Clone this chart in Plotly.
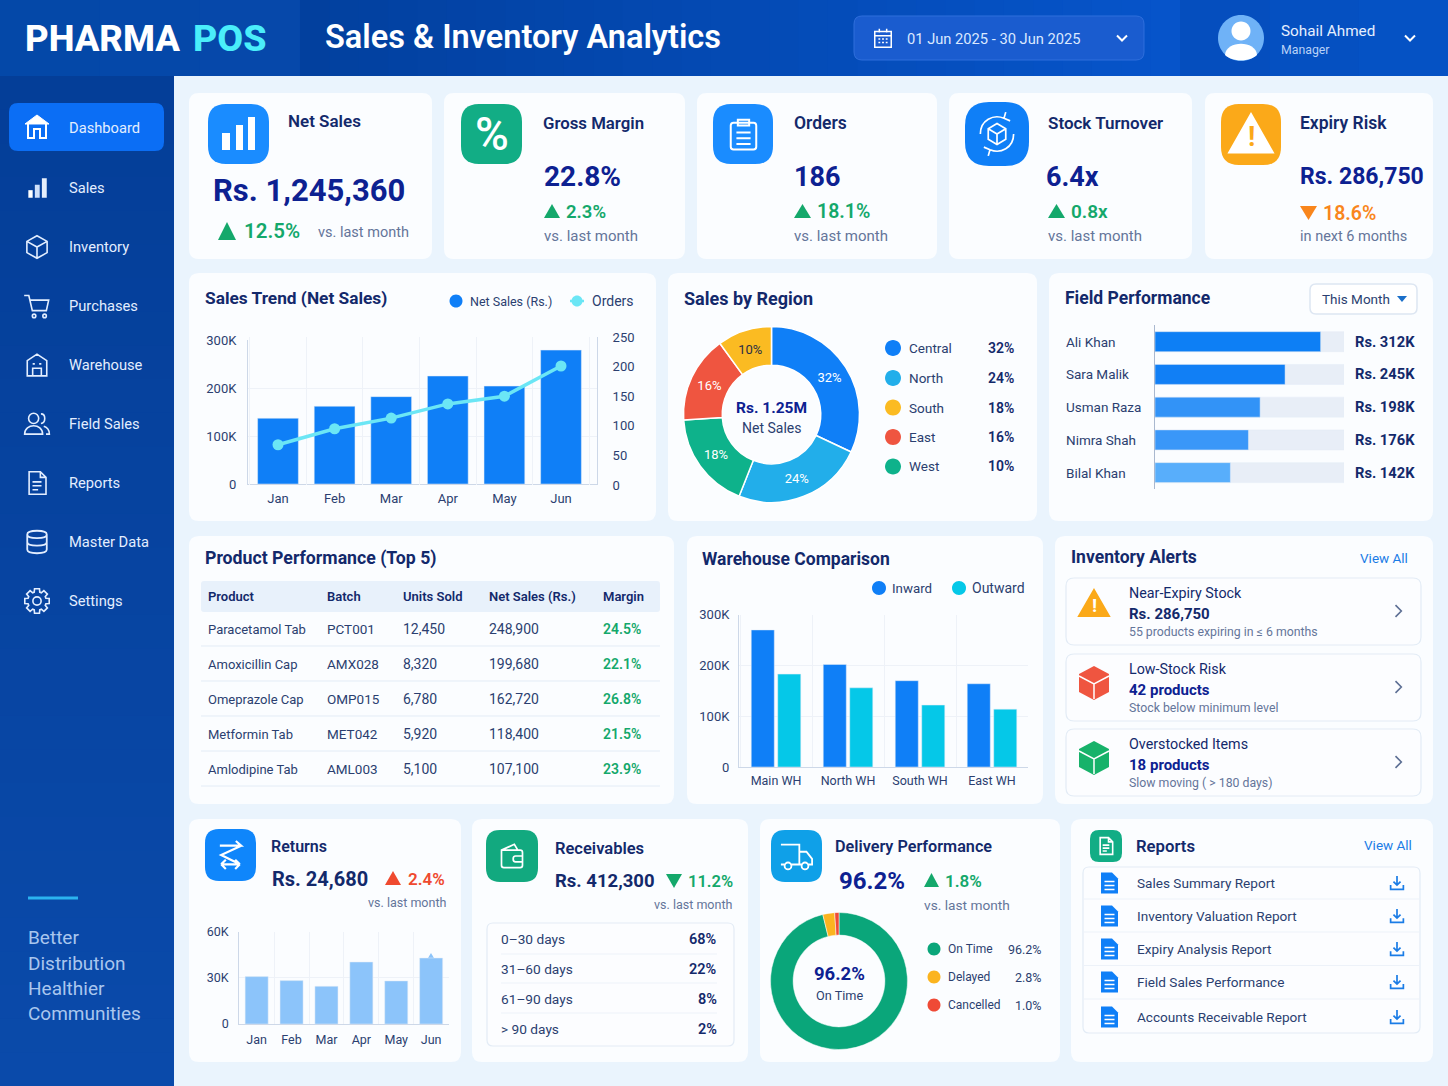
import math
import re
import plotly.graph_objects as go

W, H = 1448, 1086
FONT = "Roboto"

# ---- colours
NAVY = "#0d2191"
INK = "#13296b"
BODY = "#2b3f70"
GREY = "#64759a"
BLUE = "#0f7ff7"
CYAN = "#6be6f5"
GREEN = "#14a86b"
TEAL = "#12ad85"
RED = "#ef4a2f"
ORANGE = "#fba919"
BORDER = "#e3ecf6"

# ---- data
MONTHS = ["Jan", "Feb", "Mar", "Apr", "May", "Jun"]
NET_SALES_K = [137, 162, 182, 225, 204, 279]
ORDERS = [68, 95, 113, 137, 150, 201]
RETURNS_K = [30.8, 28.2, 24.5, 40.3, 28, 42.9]

REGION_SLICES = [32, 24, 18, 16, 10]
REGION_SLICE_COLORS = ["#0f7ff7", "#22aeea", "#0eb28b", "#ef5540", "#fbbb22"]
REGION_SLICE_TEXT_COLORS = ["white", "white", "white", "white", "#2b2f45"]
REGION_NAMES = ["Central", "North", "South", "East", "West"]
REGION_PCTS = ["32%", "24%", "18%", "16%", "10%"]
REGION_COLORS = ["#0f7ff7", "#22aeea", "#fbbb22", "#ef5540", "#0eb28b"]

FIELD_NAMES = ["Ali Khan", "Sara Malik", "Usman Raza", "Nimra Shah", "Bilal Khan"]
FIELD_SALES_K = [312, 245, 198, 176, 142]
FIELD_COLORS = ["#0d7ff5", "#117ff5", "#3293f7", "#3a97f8", "#58aefb"]
FIELD_TRACK_K = 356

PRODUCT_HEAD = ["Product", "Batch", "Units Sold", "Net Sales (Rs.)", "Margin"]
PRODUCTS = ["Paracetamol Tab", "Amoxicillin Cap", "Omeprazole Cap", "Metformin Tab", "Amlodipine Tab"]
BATCHES = ["PCT001", "AMX028", "OMP015", "MET042", "AML003"]
UNITS = ["12,450", "8,320", "6,780", "5,920", "5,100"]
PRODUCT_SALES = ["248,900", "199,680", "162,720", "118,400", "107,100"]
MARGINS = ["24.5%", "22.1%", "26.8%", "21.5%", "23.9%"]

WAREHOUSES = ["Main WH", "North WH", "South WH", "East WH"]
INWARD_K = [270, 202, 170, 164]
OUTWARD_K = [183, 156, 122, 114]

AGING_LABELS = ["0–30 days", "31–60 days", "61–90 days", "> 90 days"]
AGING_PCTS = ["68%", "22%", "8%", "2%"]

DELIVERY_NAMES = ["On Time", "Delayed", "Cancelled"]
DELIVERY_VALUES = [96.2, 2.8, 1.0]
DELIVERY_COLORS = ["#0aa67a", "#fbb41f", "#ef4a36"]

REPORTS = ["Sales Summary Report", "Inventory Valuation Report", "Expiry Analysis Report",
           "Field Sales Performance", "Accounts Receivable Report"]
NAV_ITEMS = ["Dashboard", "Sales", "Inventory", "Purchases", "Warehouse",
             "Field Sales", "Reports", "Master Data", "Settings"]

shapes = []
notes = []


def to_paper(path, ox=0, oy=0, s=1):
    out = []
    is_x = True
    for t in re.findall(r"[MLQCZ]|-?\d+\.?\d*", path):
        if t in "MLQCZ":
            out.append(t)
            is_x = True
        elif is_x:
            out.append(f"{(ox + float(t) * s) / W:.5f},")
            is_x = False
        else:
            out.append(f"{1 - (oy + float(t) * s) / H:.5f}")
            is_x = True
    return " ".join(out)


def add_path(path, fill=None, line=None, lw=1.5, ox=0, oy=0, s=1):
    shapes.append(dict(
        type="path", xref="paper", yref="paper", layer="below",
        path=to_paper(path, ox, oy, s),
        fillcolor=fill if fill else "rgba(0,0,0,0)",
        line=dict(color=line if line else "rgba(0,0,0,0)", width=lw if line else 0),
    ))


def rr(x0, y0, x1, y1, r):
    return (f"M{x0 + r} {y0} L{x1 - r} {y0} Q{x1} {y0} {x1} {y0 + r} L{x1} {y1 - r} "
            f"Q{x1} {y1} {x1 - r} {y1} L{x0 + r} {y1} Q{x0} {y1} {x0} {y1 - r} "
            f"L{x0} {y0 + r} Q{x0} {y0} {x0 + r} {y0} Z")


def circ(cx, cy, r):
    k = 0.5523 * r
    return (f"M{cx - r} {cy} C{cx - r} {cy - k} {cx - k} {cy - r} {cx} {cy - r} "
            f"C{cx + k} {cy - r} {cx + r} {cy - k} {cx + r} {cy} "
            f"C{cx + r} {cy + k} {cx + k} {cy + r} {cx} {cy + r} "
            f"C{cx - k} {cy + r} {cx - r} {cy + k} {cx - r} {cy} Z")


def box(x0, y0, x1, y1, r=10, fill="#fbfdff", line=None, lw=1):
    add_path(rr(x0, y0, x1, y1, r), fill=fill, line=line, lw=lw)


def dot(cx, cy, r, color):
    add_path(circ(cx, cy, r), fill=color)


def hline(x0, x1, y, color=BORDER, lw=1):
    add_path(f"M{x0} {y} L{x1} {y}", line=color, lw=lw)


def tri(x0, y0, x1, y1, color, up=True):
    mid = (x0 + x1) / 2
    if up:
        add_path(f"M{mid} {y0} L{x1} {y1} L{x0} {y1} Z", fill=color)
    else:
        add_path(f"M{x0} {y0} L{x1} {y0} L{mid} {y1} Z", fill=color)


def txt(x, y, s, size=15, color=BODY, weight=400, anchor="left"):
    notes.append(dict(
        xref="paper", yref="paper", x=x / W, y=1 - y / H, text=s, showarrow=False,
        xanchor=anchor, yanchor="middle", align=anchor, borderpad=0, borderwidth=0,
        font=dict(family=FONT, size=size, color=color, weight=weight),
    ))


def icon(path, cx, cy, size, fill=None, line=None, lw=1.6):
    s = size / 24
    add_path(path, fill=fill, line=line, lw=lw, ox=cx - size / 2, oy=cy - size / 2, s=s)


# ---- icon outlines on a 24 unit box
I_CUBE = "M12 2 L21 7 L21 17 L12 22 L3 17 L3 7 Z M3 7 L12 12 L21 7 M12 12 L12 22"
I_CART = "M1 3 L5 3 L8 16 L20 16 L22 7 L6 7 " + circ(9.5, 20.5, 1.5) + " " + circ(18.5, 20.5, 1.5)
I_HOUSE = "M3 22 L3 8 L12 2 L21 8 L21 22 Z M8 22 L8 15 L16 15 L16 22 Z M8 11 L10 11 M14 11 L16 11"
I_USERS = (circ(9, 7, 4.5) + " M1 21 C1 11 17 11 17 21 Z M15.5 3 C20 3 20 11 15.5 11.5 "
           "M18 14 C21 15 23 17 23 21 L20 21")
I_DOC = "M5 2 L15 2 L20 7 L20 22 L5 22 Z M15 2 L15 7 L20 7 M8 11 L16 11 M8 14.5 L16 14.5 M8 18 L13 18"
I_DB = ("M3 5 C3 0.5 21 0.5 21 5 C21 9.5 3 9.5 3 5 Z M3 5 L3 19 C3 23.5 21 23.5 21 19 L21 5 "
        "M3 12 C3 16.5 21 16.5 21 12")
I_CAL = ("M3 5 L21 5 L21 22 L3 22 Z M3 9.5 L21 9.5 M8 2 L8 6 M16 2 L16 6 M7 13 L9 13 M11 13 L13 13 "
         "M15 13 L17 13 M7 17 L9 17 M11 17 L13 17 M15 17 L17 17")
I_CLIP = ("M5 4 L19 4 Q21 4 21 6 L21 21 Q21 23 19 23 L5 23 Q3 23 3 21 L3 6 Q3 4 5 4 Z "
          "M8 2 L16 2 L16 6 L8 6 Z M7 11 L17 11 M7 15 L17 15 M7 19 L17 19")
I_SWAP = "M4 5 L20 5 L16 1.5 M20 5 L5 12 L19 19 M5 19 L19 19 M5 19 L8.5 15.5 M5 19 L8.5 22.5 M19 19 L15.5 15.5 M19 19 L15.5 22.5"
I_WALLET = "M3 7 L19 7 Q21 7 21 9 L21 20 Q21 22 19 22 L5 22 Q3 22 3 20 L3 7 L14 2 L17 7 M21 12 L15 12 Q13 12 13 14.5 Q13 17 15 17 L21 17"
I_TRUCK = ("M1 4 L14 4 L14 18 L8 18 M3.5 18 L1 18 Z M14 9 L19 9 L23 14 L23 18 L20 18 M14 18 L16 18 "
           + circ(6, 19, 2.4) + " " + circ(18, 19, 2.4))
I_DOWN = "M12 2 L12 15 M7 10 L12 15 L17 10 M3 15 L3 21 L21 21 L21 15"
I_SYNC = ("M2.5 12 C2.5 4 10 0.5 16 3 M16 3 L17 -0.5 M16 3 L19.5 4.5 M21.5 12 C21.5 20 14 23.5 8 21 "
          "M8 21 L7 24.5 M8 21 L4.5 19.5 M12 6 L17 9 L17 15 L12 18 L7 15 L7 9 Z M7 9 L12 12 L17 9 M12 12 L12 18")


def gear_path():
    pts = []
    for i in range(8):
        a = i * math.pi / 4
        for da, rad in ((-0.30, 8.6), (-0.20, 11.5), (0.20, 11.5), (0.30, 8.6)):
            pts.append((12 + rad * math.cos(a + da), 12 + rad * math.sin(a + da)))
    p = "M" + " L".join(f"{x:.2f} {y:.2f}" for x, y in pts) + " Z "
    return p + circ(12, 12, 3.8)


def gradient_h(x0, x1, y0, y1, c0, c1, n=30):
    for i in range(n):
        t = i / (n - 1)
        c = [round(a + (b - a) * t) for a, b in zip(c0, c1)]
        xa = x0 + (x1 - x0) * i / n
        xb = x0 + (x1 - x0) * (i + 1) / n + 1
        add_path(f"M{xa:.1f} {y0} L{min(xb, x1):.1f} {y0} L{min(xb, x1):.1f} {y1} L{xa:.1f} {y1} Z",
                 fill=f"rgb({c[0]},{c[1]},{c[2]})")


def gradient_v(x0, x1, y0, y1, c0, c1, n=30):
    for i in range(n):
        t = i / (n - 1)
        c = [round(a + (b - a) * t) for a, b in zip(c0, c1)]
        ya = y0 + (y1 - y0) * i / n
        yb = y0 + (y1 - y0) * (i + 1) / n + 1
        add_path(f"M{x0} {ya:.1f} L{x1} {ya:.1f} L{x1} {min(yb, y1):.1f} L{x0} {min(yb, y1):.1f} Z",
                 fill=f"rgb({c[0]},{c[1]},{c[2]})")


# ---- page, header, sidebar
add_path(f"M0 0 L{W} 0 L{W} {H} L0 {H} Z", fill="#eaf4fd")
gradient_h(0, 300, 0, 76, (4, 72, 168), (6, 72, 170), 3)
gradient_h(300, 1180, 0, 76, (2, 64, 158), (6, 84, 202))
gradient_h(1180, W, 0, 76, (5, 78, 190), (5, 82, 196), 3)
gradient_v(0, 174, 76, H, (4, 62, 152), (10, 74, 170))

txt(25, 38, "PHARMA", 36.5, "white", 800)
txt(193, 38, "POS", 37.5, "#4aeefa", 800)
txt(325, 37, "Sales &amp; Inventory Analytics", 32.5, "white", 600)
box(854, 16, 1144, 60, r=8, fill="#1a5ccf", line="#2f6fdc")
icon(I_CAL, 883, 38, 22, line="white", lw=1.5)
txt(907, 39, "01 Jun 2025 - 30 Jun 2025", 14.7, "#dbe9ff")
icon("M6 9 L12 15 L18 9", 1122, 38, 20, line="white", lw=2)
dot(1241, 38, 23, "#6fb2f7")
dot(1241, 31, 9.5, "white")
add_path("M1225 55 C1226 40 1256 40 1257 55 C1250 62 1232 62 1225 55 Z", fill="white")
txt(1281, 31, "Sohail Ahmed", 15.3, "#e5efff")
txt(1281, 50, "Manager", 12.3, "#b9d2f7")
icon("M6 9 L12 15 L18 9", 1410, 38, 20, line="white", lw=2)

box(9, 103, 164, 151, r=9, fill="#0b6ef5")
NAV_Y = [128, 188, 247, 306, 365, 424, 483, 542, 601]
for name, y in zip(NAV_ITEMS, NAV_Y):
    txt(69, y, name, 14.7, "#e3eeff")
add_path("M25 124 L37 115 L49 124 Z", fill="white", line="white", lw=1)
add_path("M28 124 L28 138 L34 138 L34 129 L40 129 L40 138 L46 138 L46 124", line="white", lw=2)
icon("M4 14 L8 14 L8 21 L4 21 Z", 37, 188, 26, fill="white")
icon("M10 9 L14.5 9 L14.5 21 L10 21 Z", 37, 188, 26, fill="#cfe0fa")
icon("M16.5 3 L21 3 L21 21 L16.5 21 Z", 37, 188, 26, fill="#e6effc")
icon(I_CUBE, 37, 247, 27, line="#e3eeff")
icon(I_CART, 37, 306, 28, line="#e3eeff")
icon(I_HOUSE, 37, 365, 26, line="#e3eeff")
icon(I_USERS, 37, 424, 27, line="#e3eeff")
icon(I_DOC, 37, 483, 27, line="#e3eeff")
icon(I_DB, 37, 542, 26, line="#e3eeff", lw=1.8)
icon(gear_path(), 37, 601, 26, line="#e3eeff")

add_path("M28 898 L78 898", line="#2bb3f0", lw=3)
for y, s in zip([937, 963, 988, 1013], ["Better", "Distribution", "Healthier", "Communities"]):
    txt(28, y, s, 19, "#a9c6ee")

# ---- cards
for x0, x1 in [(189, 432), (444, 685), (697, 937), (949, 1192), (1205, 1433)]:
    box(x0, 93, x1, 259)
for x0, x1 in [(189, 656), (668, 1037), (1049, 1433)]:
    box(x0, 273, x1, 521)
for x0, x1 in [(189, 674), (687, 1043), (1055, 1433)]:
    box(x0, 536, x1, 804)
for x0, x1 in [(189, 461), (472, 748), (760, 1060), (1071, 1433)]:
    box(x0, 819, x1, 1062)

# ---- KPI row
box(208, 104, 269, 164, r=18, fill="#1a8cff")
add_path("M222 150 L230 150 L230 133 L222 133 Z M236 150 L243 150 L243 125 L236 125 Z "
         "M248 150 L255 150 L255 117 L248 117 Z", fill="white")
txt(288, 121, "Net Sales", 17, INK, 600)
txt(213, 190, "Rs. 1,245,360", 31, NAVY, 700)
tri(218, 222, 236, 240, GREEN)
txt(244, 231, "12.5%", 20.5, GREEN, 600)
txt(318, 233, "vs. last month", 14.5, GREY)

box(461, 104, 522, 164, r=18, fill=TEAL)
txt(491.5, 134, "%", 46, "white", 500, "center")
txt(543, 123, "Gross Margin", 16.8, INK, 600)
txt(544, 177, "22.8%", 28, NAVY, 700)
tri(544, 204, 560, 218, GREEN)
txt(566, 212, "2.3%", 18.5, GREEN, 600)
txt(544, 236, "vs. last month", 15, GREY)

box(713, 104, 773, 164, r=18, fill="#1a8cff")
icon(I_CLIP, 743.5, 134, 34, line="white", lw=2)
txt(794, 123, "Orders", 17.5, INK, 600)
txt(794, 177, "186", 27, NAVY, 700)
tri(794, 204, 811, 218, GREEN)
txt(817, 212, "18.1%", 19.5, GREEN, 600)
txt(794, 236, "vs. last month", 15, GREY)

box(965, 102, 1029, 166, r=24, fill="#0f7ff7")
icon(I_SYNC, 997, 134, 42, line="white", lw=1.7)
txt(1048, 123, "Stock Turnover", 17, INK, 600)
txt(1046, 177, "6.4x", 27, NAVY, 700)
tri(1048, 204, 1065, 218, GREEN)
txt(1071, 212, "0.8x", 19, GREEN, 600)
txt(1048, 236, "vs. last month", 15, GREY)

box(1221, 104, 1281, 165, r=18, fill=ORANGE)
add_path("M1251 115 L1272 152 L1230 152 Z", fill="white", line="white", lw=3)
txt(1251, 137, "!", 27, ORANGE, 700, "center")
txt(1300, 123, "Expiry Risk", 17.5, INK, 600)
txt(1300, 177, "Rs. 286,750", 23, NAVY, 700)
tri(1300, 206, 1317, 220, "#f9861c", up=False)
txt(1323, 213, "18.6%", 19.5, "#f9861c", 600)
txt(1300, 237, "in next 6 months", 14.5, GREY)

# ---- Sales trend
txt(205, 298, "Sales Trend (Net Sales)", 17.3, INK, 700)
dot(456, 301, 6.5, BLUE)
txt(470, 301, "Net Sales (Rs.)", 12.5, BODY)
add_path("M570 301 L584 301", line=CYAN, lw=2.5)
dot(577, 301, 5.5, CYAN)
txt(592, 301, "Orders", 14, BODY)

# ---- Sales by region
txt(684, 298, "Sales by Region", 18, INK, 700)
txt(771.5, 408, "Rs. 1.25M", 15.5, NAVY, 700, "center")
txt(771.5, 428, "Net Sales", 14, BODY, 400, "center")
for y, name, pct, col in zip([348, 378, 407.5, 437, 466.5], REGION_NAMES, REGION_PCTS, REGION_COLORS):
    dot(893, y, 8, col)
    txt(909, y, name, 13.5, BODY)
    txt(1014, y, pct, 14, INK, 600, "right")

# ---- Field performance
txt(1065, 298, "Field Performance", 17.5, INK, 700)
box(1310, 284, 1417, 314, r=6, fill="white", line="#dde6f2", lw=1.5)
txt(1322, 299, "This Month", 13.5, BODY)
tri(1397, 296, 1407, 302, "#1a6fc9", up=False)
for y, name, val in zip([341.7, 374, 406.7, 439.7, 472.7], FIELD_NAMES, FIELD_SALES_K):
    txt(1066, y, name, 13.5, BODY)
    txt(1355, y, f"Rs. {val}K", 14.7, INK, 700)

# ---- Product table
txt(205, 558, "Product Performance (Top 5)", 17.7, INK, 700)
box(201, 581, 660, 612, r=3, fill="#e8f1fb")
COL_X = [208, 327, 403, 489, 603]
for x, s in zip(COL_X, PRODUCT_HEAD):
    txt(x, 596, s, 13, INK, 600)
ROW_Y = [629, 664, 699, 734, 769]
for i, y in enumerate(ROW_Y):
    txt(COL_X[0], y, PRODUCTS[i], 13, BODY)
    txt(COL_X[1], y, BATCHES[i], 13.5, BODY)
    txt(COL_X[2], y, UNITS[i], 14, BODY)
    txt(COL_X[3], y, PRODUCT_SALES[i], 14, BODY)
    txt(COL_X[4], y, MARGINS[i], 14, GREEN, 600)
    hline(201, 660, y + 17)

# ---- Warehouse
txt(702, 559, "Warehouse Comparison", 17.5, INK, 700)
dot(879, 588, 7, BLUE)
txt(892, 588, "Inward", 13.3, BODY)
dot(959, 588, 7, "#05c8e8")
txt(972, 588, "Outward", 14, BODY)

# ---- Inventory alerts
txt(1071, 557, "Inventory Alerts", 17.5, INK, 700)
txt(1408, 558, "View All", 13.5, "#1a7ce6", 400, "right")
ALERT_ROWS = [
    (578, 645, "Near-Expiry Stock", "Rs. 286,750", "55 products expiring in ≤ 6 months", INK),
    (654, 721, "Low-Stock Risk", "42 products", "Stock below minimum level", NAVY),
    (729, 796, "Overstocked Items", "18 products", "Slow moving ( &gt; 180 days)", NAVY),
]
for y0, y1, a, b, c, col in ALERT_ROWS:
    box(1066, y0, 1421, y1, r=8, fill="#fcfdff", line=BORDER, lw=1.2)
    txt(1129, y0 + 15, a, 14.3, INK)
    txt(1129, y0 + 36, b, 15, col, 700)
    txt(1129, y0 + 54, c, 12.3, GREY)
    icon("M9 5 L16 12 L9 19", 1398, y0 + 33, 20, line="#5d6f94", lw=1.6)
add_path("M1094 590 L1109 616 L1079 616 Z", fill=ORANGE, line=ORANGE, lw=2)
txt(1094, 605, "!", 19, "white", 700, "center")
for cy, col, edge in [(683, "#ef5540", "#d9402b"), (758, "#17b26a", "#0f9c5a")]:
    add_path(f"M1094 {cy - 17} L1109 {cy - 9} L1109 {cy + 9} L1094 {cy + 17} L1079 {cy + 9} L1079 {cy - 9} Z", fill=col)
    add_path(f"M1079 {cy - 7} L1094 {cy + 1} L1109 {cy - 7} M1094 {cy + 1} L1094 {cy + 16}", line="white", lw=1.5)

# ---- Returns
box(205, 829, 256, 881, r=14, fill="#0f86fb")
icon(I_SWAP, 230.5, 855, 32, line="white", lw=2.2)
txt(271, 846, "Returns", 16, INK, 600)
txt(272, 879, "Rs. 24,680", 20, INK, 700)
tri(385, 871, 401, 885, RED)
txt(408, 879, "2.4%", 17, RED, 600)
txt(446, 902, "vs. last month", 12.5, GREY, 400, "right")
tri(428, 953, 434, 958, "#8cc4fa")

# ---- Receivables
box(486, 830, 538, 882, r=14, fill="#12a97f")
icon(I_WALLET, 512, 856, 28, line="white", lw=1.7)
txt(555, 849, "Receivables", 16.5, INK, 600)
txt(555, 881, "Rs. 412,300", 18.5, INK, 700)
tri(666, 874, 682, 888, GREEN, up=False)
txt(688, 881, "11.2%", 16.5, GREEN, 600)
txt(732, 904, "vs. last month", 12.5, GREY, 400, "right")
box(487, 923, 734, 1046, r=6, fill="#fcfdff", line=BORDER, lw=1.2)
for y, a, b in zip([939, 969, 999, 1029], AGING_LABELS, AGING_PCTS):
    txt(501, y, a, 13.7, BODY)
    txt(717, y, b, 14.5, INK, 600, "right")
for y in [954, 983, 1013]:
    hline(501, 717, y, "#edf2f9")

# ---- Delivery
box(771, 830, 822, 882, r=14, fill="#0fa0e8")
icon(I_TRUCK, 796.5, 856, 34, line="white", lw=1.8)
txt(835, 846, "Delivery Performance", 16.2, INK, 600)
txt(839, 881, "96.2%", 24, NAVY, 700)
tri(924, 873, 939, 887, GREEN)
txt(945, 881, "1.8%", 17, GREEN, 600)
txt(924, 905, "vs. last month", 13.7, GREY)
txt(839, 974, "96.2%", 18.5, NAVY, 700, "center")
txt(839, 995, "On Time", 12.7, BODY, 400, "center")
for y, name, val, col in zip([949, 977, 1005], DELIVERY_NAMES, DELIVERY_VALUES, DELIVERY_COLORS):
    dot(934, y, 6.5, col)
    txt(948, y, name, 12, BODY)
    txt(1042, y, f"{val:.1f}%", 12.5, BODY, 400, "right")

# ---- Reports
box(1090, 830, 1122, 862, r=9, fill=TEAL)
icon(I_DOC, 1106, 846, 20, line="white", lw=1.6)
txt(1136, 846, "Reports", 16.7, INK, 600)
txt(1412, 845, "View All", 13.5, "#1a7ce6", 400, "right")
box(1083, 867, 1420, 1033, r=6, fill="#fcfdff", line=BORDER, lw=1.2)
for y, name in zip([883, 916, 949, 982, 1017], REPORTS):
    add_path("M0 0 L11 0 L17 6 L17 21 L0 21 Z", fill=BLUE, ox=1101, oy=y - 10.5)
    add_path("M3.5 9 L13.5 9 M3.5 13 L13.5 13 M3.5 17 L13.5 17", line="white", lw=1.6, ox=1101, oy=y - 10.5)
    txt(1137, y, name, 13.6, BODY)
    icon(I_DOWN, 1397, y, 17, line="#1a7ce6", lw=1.7)
for y in [899, 932, 965.5, 999]:
    hline(1084, 1419, y, "#edf2f9")

fig = go.Figure()


def xdom(x0, x1):
    return [x0 / W, x1 / W]


def ydom(top, bottom):
    return [1 - bottom / H, 1 - top / H]


tick_font = dict(family=FONT, size=13, color=BODY)
GRID = "#eef2f8"
AXLINE = "#cdd8e8"

# sales trend: bars left axis, orders on its own right axis
fig.add_trace(go.Bar(x=MONTHS, y=NET_SALES_K, width=0.72, marker_color=BLUE, xaxis="x", yaxis="y"))
fig.add_trace(go.Scatter(x=MONTHS, y=ORDERS, mode="lines+markers", xaxis="x", yaxis="y2",
                         line=dict(color=CYAN, width=3.5), marker=dict(size=11, color=CYAN)))
# returns
fig.add_trace(go.Bar(x=MONTHS, y=RETURNS_K, width=0.66, marker_color="#8cc4fa", xaxis="x3", yaxis="y3"))
# warehouse
fig.add_trace(go.Bar(x=WAREHOUSES, y=INWARD_K, width=0.32, offset=-0.344, marker_color=BLUE, xaxis="x4", yaxis="y4"))
fig.add_trace(go.Bar(x=WAREHOUSES, y=OUTWARD_K, width=0.32, offset=0.024, marker_color="#05c8e8", xaxis="x4", yaxis="y4"))
# field performance
fig.add_trace(go.Bar(y=FIELD_NAMES, x=[FIELD_TRACK_K] * 5, width=0.61, orientation="h", marker_color="#e8eef7",
                     xaxis="x5", yaxis="y5"))
fig.add_trace(go.Bar(y=FIELD_NAMES, x=FIELD_SALES_K, width=0.61, orientation="h", marker_color=FIELD_COLORS,
                     xaxis="x5", yaxis="y5"))
# donuts
fig.add_trace(go.Pie(values=REGION_SLICES, marker=dict(colors=REGION_SLICE_COLORS, line=dict(color="white", width=1.5)),
                     text=[f"{v}%" for v in REGION_SLICES], textinfo="text", textposition="inside",
                     insidetextorientation="horizontal", insidetextfont=dict(family=FONT, size=13, color=REGION_SLICE_TEXT_COLORS),
                     hole=0.56, sort=False, direction="clockwise", rotation=0,
                     domain=dict(x=xdom(683.5, 859.5), y=ydom(326.5, 502.5))))
fig.add_trace(go.Pie(values=DELIVERY_VALUES, labels=DELIVERY_NAMES,
                     marker=dict(colors=DELIVERY_COLORS, line=dict(color="white", width=0.5)),
                     textinfo="none", hole=0.67, sort=False, direction="clockwise", rotation=0,
                     domain=dict(x=xdom(770.5, 907.5), y=ydom(912.5, 1049.5))))


def cat_x(dom, cats, rng, standoff=2):
    return dict(domain=dom, type="category", categoryorder="array", categoryarray=cats, range=rng,
                tickson="boundaries", showgrid=True, gridcolor=GRID, showline=True, linecolor=AXLINE,
                ticks="", tickfont=tick_font, ticklabelstandoff=standoff, zeroline=False, fixedrange=True)


def val_y(dom, rng, vals, labels, anchor, standoff=10):
    return dict(domain=dom, range=rng, tickvals=vals, ticktext=labels, anchor=anchor, gridcolor=GRID,
                showgrid=True, showline=True, linecolor=AXLINE, ticks="", tickfont=tick_font,
                ticklabelstandoff=standoff, zeroline=False, fixedrange=True)


fig.update_layout(
    width=W, height=H, margin=dict(l=0, r=0, t=0, b=0, pad=0, autoexpand=False),
    paper_bgcolor="#eaf4fd", plot_bgcolor="rgba(0,0,0,0)",
    showlegend=False, barmode="overlay", hovermode=False,
    shapes=shapes, annotations=notes,
    xaxis=cat_x(xdom(248, 597), MONTHS, [-0.53, 5.636], 2),
    yaxis=val_y(ydom(340, 484), [0, 300], [0, 100, 200, 300], ["0", "100K", "200K", "300K"], "x", 8),
    yaxis2=dict(domain=ydom(337, 485), range=[0, 250], tickvals=[0, 50, 100, 150, 200, 250], anchor="x", side="right",
                showgrid=False, showline=True, linecolor=AXLINE, ticks="", tickfont=tick_font,
                ticklabelstandoff=12, zeroline=False, fixedrange=True),
    xaxis3=dict(cat_x(xdom(239.2, 448.6), MONTHS, [-0.5, 5.5], 4), anchor="y3", tickfont=dict(tick_font, size=12.5)),
    yaxis3=dict(val_y(ydom(931.7, 1024), [0, 60], [0, 30, 60], ["0", "30K", "60K"], "x3", 7), tickfont=dict(tick_font, size=12.5)),
    xaxis4=dict(cat_x(xdom(739, 1028), WAREHOUSES, [-0.514, 3.5], 2), anchor="y4", tickfont=dict(tick_font, size=12.5)),
    yaxis4=val_y(ydom(614.7, 767), [0, 300], [0, 100, 200, 300], ["0", "100K", "200K", "300K"], "x4", 6),
    xaxis5=dict(domain=xdom(1155, 1344), range=[0, FIELD_TRACK_K], anchor="y5", visible=False, fixedrange=True),
    yaxis5=dict(domain=ydom(325.3, 489), anchor="x5", type="category", autorange="reversed", showticklabels=False,
                showgrid=False, showline=True, linecolor="#a9b8cf", ticks="", zeroline=False, fixedrange=True),
)

fig.write_html("out.html", config={"displayModeBar": False},
               post_script="document.body.style.margin='0';document.documentElement.style.overflow='hidden';")
